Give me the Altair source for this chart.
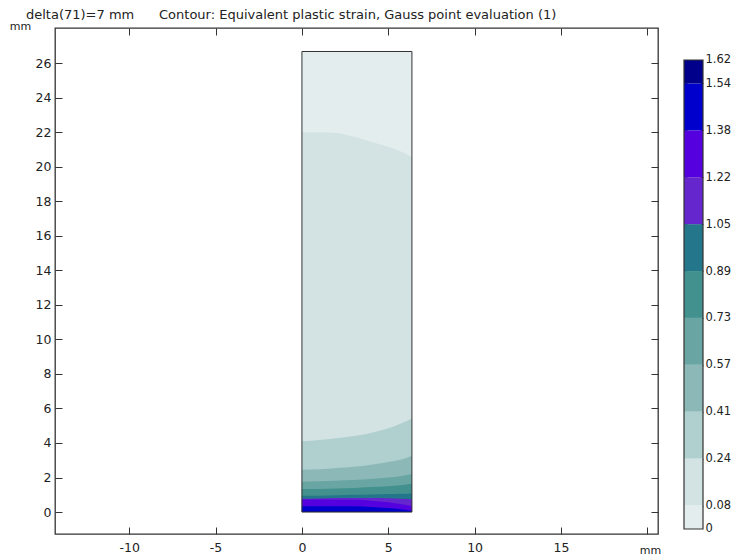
import altair as alt
import pandas as pd

# Contour boundary samples (mm)
X_SAMPLES = [0, 1, 2, 3, 4, 5, 5.7, 6.37]
TOP = [26.67] * 8
B008 = [22.0, 22.0, 21.95, 21.75, 21.45, 21.15, 20.9, 20.55]
B024 = [4.1, 4.17, 4.27, 4.4, 4.58, 4.85, 5.12, 5.42]
B041 = [2.45, 2.48, 2.55, 2.62, 2.74, 2.9, 3.03, 3.26]
B057 = [1.76, 1.78, 1.82, 1.86, 1.92, 2.0, 2.08, 2.2]
B073 = [1.33, 1.34, 1.37, 1.4, 1.45, 1.5, 1.56, 1.66]
B089 = [0.94, 0.95, 0.97, 1.0, 1.02, 1.04, 1.06, 1.08]
B105 = [0.77, 0.79, 0.81, 0.82, 0.82, 0.8, 0.77, 0.74]
B122 = [0.73, 0.73, 0.72, 0.71, 0.66, 0.57, 0.46, 0.33]
B138 = [0.33, 0.34, 0.34, 0.33, 0.3, 0.24, 0.17, 0.08]
B154 = [0.03, 0.03, 0.03, 0.03, 0.02, 0.01, 0.0, 0.0]
BOUNDS = [TOP, B008, B024, B041, B057, B073, B089, B105, B122, B138, B154]

COLORS = ["#e3edee", "#d3e3e3", "#b0cfcf", "#8cb9b7", "#69a5a2", "#42918f",
          "#24778a", "#6526cd", "#5400df", "#0000cd", "#00008b"]

# Colour bar levels
LEVELS = [0, 0.081, 0.243, 0.405, 0.567, 0.729, 0.891, 1.053, 1.215, 1.377, 1.539, 1.62]
LEVEL_LABELS = ["0", "0.08", "0.24", "0.41", "0.57", "0.73", "0.89", "1.05", "1.22", "1.38", "1.54", "1.62"]

X_TICKS = [-10, -5, 0, 5, 10, 15, 20]
Y_TICKS = list(range(0, 28, 2))
XDOM = [-14.3, 20.62]
YDOM = [-1.27, 28.03]
CDOM = [-0.0173, 1.7305]
DOMAIN_W = 6.37
DOMAIN_H = 26.67

INK = "#222222"
FRAME = "#333333"
FONT = "DejaVu Sans"
W, H = 603, 506
CW = 19

xs = alt.Scale(domain=XDOM, nice=False, zero=False)
ys = alt.Scale(domain=YDOM, nice=False, zero=False)

layers = []
for b, col in zip(BOUNDS, COLORS):
    d = pd.DataFrame({"x": X_SAMPLES, "y": b, "y0": [0] * len(b)})
    layers.append(
        alt.Chart(d, width=W, height=H).mark_area(color=col, interpolate="monotone").encode(
            x=alt.X("x:Q", scale=xs, axis=None),
            y=alt.Y("y:Q", scale=ys, axis=None),
            y2="y0:Q",
        )
    )

box = alt.Chart(pd.DataFrame({"x": [0], "x2": [DOMAIN_W], "y": [0], "y2": [DOMAIN_H]}), width=W, height=H).mark_rect(
    fillOpacity=0, stroke=FRAME, strokeWidth=1.0
).encode(x=alt.X("x:Q", scale=xs, axis=None), x2="x2:Q",
         y=alt.Y("y:Q", scale=ys, axis=None), y2="y2:Q")

tick_df = pd.DataFrame({"x": [0], "y": [0]})
common = dict(domain=False, grid=False, tickSize=7, offset=-7, tickColor=FRAME, tickWidth=1, minExtent=0)
axes_bl = alt.Chart(tick_df, width=W, height=H).mark_point(opacity=0).encode(
    x=alt.X("x:Q", scale=xs, axis=alt.Axis(
        values=X_TICKS, orient="bottom", title="mm", titleX=595, titleY=17,
        titleFontWeight="normal", titleFontSize=11, titleFont=FONT, titleColor=INK,
        labelExpr="datum.value == 20 ? '' : '' + datum.value", labelFont=FONT, labelFontSize=12.5,
        labelColor=INK, labelPadding=7, **common)),
    y=alt.Y("y:Q", scale=ys, axis=alt.Axis(
        values=Y_TICKS, orient="left", title="mm", titleX=-42, titleY=3, titleAngle=0,
        titleFontWeight="normal", titleFontSize=11, titleFont=FONT, titleColor=INK,
        titleAlign="center", labelFont=FONT, labelFontSize=12.5, labelColor=INK,
        labelPadding=4, **common)),
)
axes_tr = alt.Chart(tick_df, width=W, height=H).mark_point(opacity=0).encode(
    x=alt.X("x:Q", scale=xs, axis=alt.Axis(values=X_TICKS, orient="top", title=None, labels=False, **common)),
    y=alt.Y("y:Q", scale=ys, axis=alt.Axis(values=Y_TICKS, orient="right", title=None, labels=False, **common)),
)

main = alt.layer(*layers, box, axes_bl, axes_tr).resolve_axis(x="independent", y="independent").properties(
    view=alt.ViewConfig(stroke=FRAME, strokeWidth=1.3),
    title=alt.TitleParams(
        "delta(71)=7 mm\u00a0\u00a0\u00a0\u00a0\u00a0\u00a0Contour: Equivalent plastic strain, Gauss point evaluation (1)",
        anchor="start", frame="group", dx=-29, offset=-2, fontSize=13, font=FONT, fontWeight="normal", color=INK,
    ),
)

# Colour bar
cx = alt.Scale(domain=[0, 1], nice=False, zero=False)
cy = alt.Scale(domain=CDOM, nice=False, zero=False)
bar_df = pd.DataFrame({"lo": LEVELS[:-1], "hi": LEVELS[1:], "c": COLORS, "a": [0] * 11, "b": [1] * 11})
bars = alt.Chart(bar_df, width=CW, height=H).mark_rect().encode(
    x=alt.X("a:Q", scale=cx, axis=None), x2="b:Q",
    y=alt.Y("lo:Q", scale=cy, axis=None), y2="hi:Q",
    color=alt.Color("c:N", scale=None),
)
bar_box = alt.Chart(pd.DataFrame({"a": [0], "b": [1], "lo": [0], "hi": [1.62]}), width=CW, height=H).mark_rect(
    fillOpacity=0, stroke=FRAME, strokeWidth=1.2
).encode(x=alt.X("a:Q", scale=cx, axis=None), x2="b:Q",
         y=alt.Y("lo:Q", scale=cy, axis=None), y2="hi:Q")

lab_expr = "{" + ",".join(f"'{v}':'{l}'" for v, l in zip(LEVELS, LEVEL_LABELS)) + "}[datum.value]"
tick_vals = LEVELS[1:-1]
pt_df = pd.DataFrame({"a": [0], "lo": [0]})
lab_axis = alt.Chart(pt_df, width=CW, height=H).mark_point(opacity=0).encode(
    x=alt.X("a:Q", scale=cx, axis=None),
    y=alt.Y("lo:Q", scale=cy, axis=alt.Axis(
        values=LEVELS, orient="right", title=None, domain=False, grid=False, ticks=False,
        labelExpr=lab_expr, labelFont=FONT, labelFontSize=11.5, labelColor=INK, minExtent=0,
        labelPadding=2, labelBound=False, labelOverlap=False, labelFlush=False)),
)
tick_left = alt.Chart(pt_df, width=CW, height=H).mark_point(opacity=0).encode(
    x=alt.X("a:Q", scale=cx, axis=None),
    y=alt.Y("lo:Q", scale=cy, axis=alt.Axis(
        values=tick_vals, orient="left", title=None, domain=False, grid=False, labels=False, minExtent=0,
        tickSize=3, offset=-3, tickColor=FRAME, tickWidth=1)),
)
tick_right = alt.Chart(pt_df, width=CW, height=H).mark_point(opacity=0).encode(
    x=alt.X("a:Q", scale=cx, axis=None),
    y=alt.Y("lo:Q", scale=cy, axis=alt.Axis(
        values=tick_vals, orient="right", title=None, domain=False, grid=False, labels=False, minExtent=0,
        tickSize=3, offset=-3, tickColor=FRAME, tickWidth=1)),
)
cbar = alt.layer(bars, bar_box, tick_left, tick_right, lab_axis).resolve_axis(y="independent")

chart = alt.hconcat(main, cbar, spacing=19).configure_view(stroke=None).properties(
    padding=0, background="white")
chart.save("out.html", embed_options={"renderer": "svg", "actions": False})
